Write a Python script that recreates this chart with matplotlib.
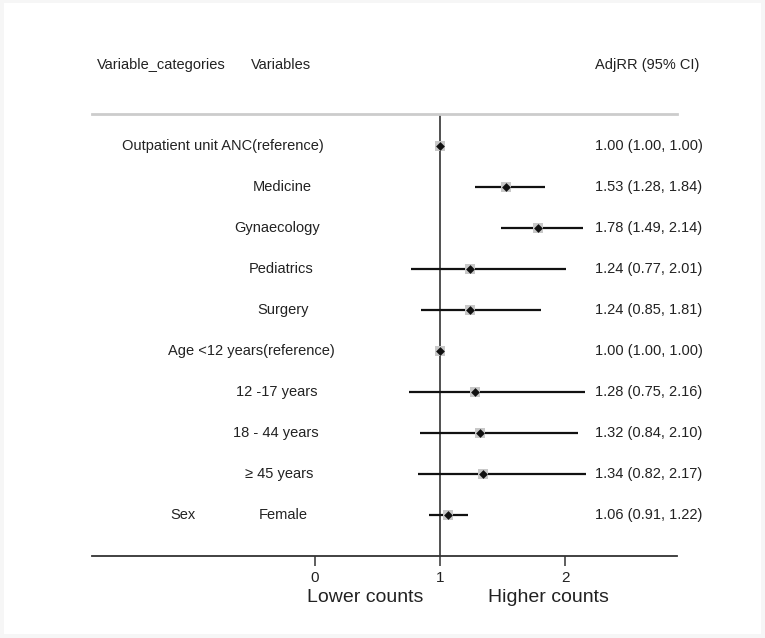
import matplotlib.pyplot as plt
from matplotlib.patches import Rectangle
from matplotlib.transforms import blended_transform_factory

plt.rcParams['font.family'] = ['Liberation Sans', 'DejaVu Sans']

# forest plot data (adjusted RR with 95% CI)
categories = ['', '', '', '', '', '', '', '', '', 'Sex']
variables = ['Outpatient unit ANC(reference)', 'Medicine', 'Gynaecology', 'Pediatrics',
             'Surgery', 'Age <12 years(reference)', '12 -17 years', '18 - 44 years',
             '\u2265 45 years', 'Female']
rr = [1.00, 1.53, 1.78, 1.24, 1.24, 1.00, 1.28, 1.32, 1.34, 1.06]
lo = [1.00, 1.28, 1.49, 0.77, 0.85, 1.00, 0.75, 0.84, 0.82, 0.91]
hi = [1.00, 1.84, 2.14, 2.01, 1.81, 1.00, 2.16, 2.10, 2.17, 1.22]
# label centres in pixels (the Stata layout is not quite aligned)
var_x = [223, 282, 277, 281, 283, 251, 277, 276, 279, 283]

W, H = 765, 638
fig = plt.figure(figsize=(W / 100, H / 100), dpi=100, facecolor='#f6f6f6')
fig.patches.append(Rectangle((4 / W, 1 - 634 / H), 757 / W, 631 / H,
                             transform=fig.transFigure, facecolor='white',
                             edgecolor='none', zorder=-5))

# axes box: x 92..677 px, y 114..556 px
ax = fig.add_axes([92 / W, 1 - 556 / H, (677 - 92) / W, (556 - 114) / H])
ax.set_facecolor('none')
n = len(rr)
ypos = [n - i for i in range(n)]
ax.set_xlim(-1.784, 2.896)
ax.set_ylim(0, n + 0.78)

for s in ['left', 'right']:
    ax.spines[s].set_visible(False)
ax.spines['top'].set_color('#cccccc')
ax.spines['top'].set_linewidth(2)
ax.spines['bottom'].set_color('#333333')
ax.spines['bottom'].set_linewidth(1.3)
ax.set_yticks([])
ax.set_xticks([0, 1, 2])
ax.tick_params(axis='x', length=7, width=1.1, color='#333333', labelsize=11,
               pad=4, labelcolor='#222222')

ax.axvline(1, color='#222222', lw=1.1, zorder=1)
ax.hlines(ypos, lo, hi, color='#111111', lw=1.6, zorder=2)
ax.scatter(rr, ypos, marker='s', s=50, color='#c8c8c8', zorder=3, linewidths=0)
ax.scatter(rr, ypos, marker='D', s=20, color='#111111', zorder=4, linewidths=0)

fs = 10.5
tr = blended_transform_factory(fig.transFigure, ax.transData)
for i in range(n):
    y = ypos[i]
    if categories[i]:
        ax.text(170 / W, y, categories[i], transform=tr, ha='left', va='center',
                fontsize=fs, color='#222222')
    ax.text(var_x[i] / W, y, variables[i], transform=tr, ha='center', va='center',
            fontsize=fs, color='#222222')
    ax.text(595 / W, y, f'{rr[i]:.2f} ({lo[i]:.2f}, {hi[i]:.2f})', transform=tr,
            ha='left', va='center', fontsize=fs, color='#222222')

# column headers
hy = 1 - 65 / H
fig.text(97 / W, hy, 'Variable_categories', ha='left', va='center', fontsize=fs, color='#222222')
fig.text(251 / W, hy, 'Variables', ha='left', va='center', fontsize=fs, color='#222222')
fig.text(595 / W, hy, 'AdjRR (95% CI)', ha='left', va='center', fontsize=fs, color='#222222')

# direction labels
ly = 1 - 598 / H
fig.text(365 / W, ly, 'Lower counts', ha='center', va='center', fontsize=14, color='#222222')
fig.text(548 / W, ly, 'Higher counts', ha='center', va='center', fontsize=14, color='#222222')

fig.savefig('out.png', dpi=100, facecolor=fig.get_facecolor())
